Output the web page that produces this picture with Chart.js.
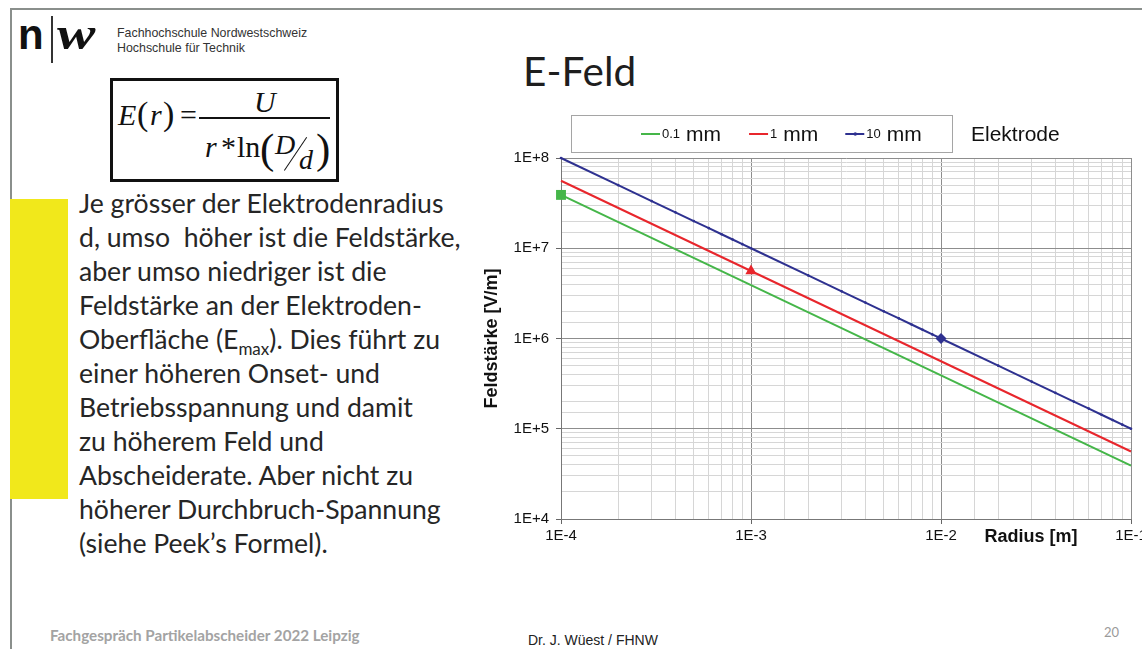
<!DOCTYPE html>
<html lang="de">
<head>
<meta charset="utf-8">
<title>E-Feld</title>
<script src="https://cdn.jsdelivr.net/npm/chart.js@4.4.1/dist/chart.umd.min.js"></script>
<style>
    html, body {
        margin: 0;
        padding: 0;
        background: #fff;
        overflow: hidden;
    }
    #slide {
        position: relative;
        width: 1142px;
        height: 649px;
        overflow: hidden;
        background: #fff;
        font-family: Lato, "Open Sans", sans-serif;
        color: #222;
    }
    #slide > * { position: absolute; }
    .frame-top { left: 10px; top: 8px; width: 1132px; height: 2px; background: #8a8f8c; }
    .frame-left { left: 10px; top: 8px; width: 2px; height: 641px; background: #8a8f8c; }

    .logo-n { left: 18px; top: 14px; font: bold 42px "Liberation Sans", Arial, sans-serif; line-height: 42px; color: #111; }
    .logo-bar { left: 51px; top: 16px; width: 1.5px; height: 47px; background: #333; }
    .logo-w { left: 57px; top: 11px; font: bold italic 46px "Liberation Serif", serif; line-height: 46px; color: #111; transform: scaleX(1.25); transform-origin: left top; }
    .inst { left: 117px; top: 26px; width: 198px; overflow: hidden; white-space: nowrap; font: 12.4px/15px "Liberation Sans", Arial, sans-serif; color: #333; }

    .formula { left: 110px; top: 78px; width: 229px; height: 104px; border: 3px solid #111; box-sizing: border-box; }
    .f { font-family: "Liberation Serif", serif; color: #111; line-height: 1; white-space: nowrap; }
    .fi { font-style: italic; }

    .yellow { left: 10px; top: 199px; width: 58px; height: 300px; background: #f1e81b; }
    .body { left: 79px; top: 186px; font-size: 26.6px; line-height: 34px; color: #262626; white-space: nowrap; }
    .body sub { font-size: 17px; line-height: 0; vertical-align: -6px; }

    .title { left: 523px; top: 51px; font-size: 40.5px; line-height: 1; color: #1e1e1e; }
    .chart-wrap { left: 470px; top: 100px; width: 690px; height: 460px; }

    .foot1 { left: 50px; top: 628px; font-weight: bold; font-size: 15.2px; line-height: 1; color: #a3a3a3; }
    .foot2 { left: 528px; top: 633px; font: 14px/1 "Liberation Sans", Arial, sans-serif; color: #222; }
    .pagenum { left: 1104px; top: 626px; font-size: 13px; line-height: 1; color: #9a9a9a; }
</style>
</head>
<body>
<div id="slide">
    <div class="frame-top"></div>
    <div class="frame-left"></div>

    <div class="logo-n">n</div>
    <div class="logo-bar"></div>
    <div class="logo-w">w</div>
    <div class="inst">Fachhochschule Nordwestschweiz<br>Hochschule für Technik</div>

    <div class="formula"></div>
    <span class="f fi" style="left:118px;top:100px;font-size:30px">E</span>
    <span class="f" style="left:137px;top:97px;font-size:34px">(</span>
    <span class="f fi" style="left:150px;top:100px;font-size:30px">r</span>
    <span class="f" style="left:163px;top:97px;font-size:34px">)</span>
    <span class="f" style="left:180px;top:100px;font-size:30px">=</span>
    <div style="left:199px;top:117px;width:131px;height:1.5px;background:#111"></div>
    <span class="f fi" style="left:254px;top:87px;font-size:30px">U</span>
    <span class="f fi" style="left:205px;top:132px;font-size:30px">r</span>
    <span class="f" style="left:221px;top:132px;font-size:30px">*</span>
    <span class="f" style="left:237px;top:132px;font-size:30px">ln</span>
    <span class="f" style="left:260px;top:127px;font-size:43px">(</span>
    <span class="f fi" style="left:275px;top:131px;font-size:28px">D</span>
    <div style="left:295px;top:134px;width:1.3px;height:40px;background:#111;transform:rotate(34deg)"></div>
    <span class="f fi" style="left:299px;top:146px;font-size:28px">d</span>
    <span class="f" style="left:316px;top:127px;font-size:43px">)</span>

    <div class="yellow"></div>
    <div class="body">Je grösser der Elektrodenradius<br>d, umso&nbsp; höher ist die Feldstärke,<br>aber umso niedriger ist die<br>Feldstärke an der Elektroden-<br>Oberfläche (E<sub>max</sub>). Dies führt zu<br>einer höheren Onset- und<br>Betriebsspannung und damit<br>zu höherem Feld und<br>Abscheiderate. Aber nicht zu<br>höherer Durchbruch-Spannung<br>(siehe Peek’s Formel).</div>

    <div class="title">E-Feld</div>
    <div class="chart-wrap"><canvas id="chart" width="690" height="460"></canvas></div>

    <div class="foot1">Fachgespräch Partikelabscheider 2022 Leipzig</div>
    <div class="foot2">Dr. J. Wüest / FHNW</div>
    <div class="pagenum">20</div>
</div>

<script>
// values (log-log, E over radius)
const radiusDecades = [1e-4, 1e-3, 1e-2, 1e-1];
const field01mm = [3.9e7, 3.9e6, 3.9e5, 3.9e4];
const field1mm = [5.6e7, 5.6e6, 5.6e5, 5.6e4];

// the 10 mm curve carries small markers at 1..9 per decade
const radiusFine = [
    1e-4, 2e-4, 3e-4, 4e-4, 5e-4, 6e-4, 7e-4, 8e-4, 9e-4,
    1e-3, 2e-3, 3e-3, 4e-3, 5e-3, 6e-3, 7e-3, 8e-3, 9e-3,
    1e-2, 2e-2, 3e-2, 4e-2, 5e-2, 6e-2, 7e-2, 8e-2, 9e-2,
    1e-1
];
const field10mm = [
    1e8, 5e7, 3.33e7, 2.5e7, 2e7, 1.67e7, 1.43e7, 1.25e7, 1.11e7,
    1e7, 5e6, 3.33e6, 2.5e6, 2e6, 1.67e6, 1.43e6, 1.25e6, 1.11e6,
    1e6, 5e5, 3.33e5, 2.5e5, 2e5, 1.67e5, 1.43e5, 1.25e5, 1.11e5,
    1e5
];

const seriesNames = ['0.1', '1', '10'];
const legendUnit = 'mm';
const legendCaption = 'Elektrode';

const xTickValues = [1e-4, 1e-3, 1e-2, 1e-1];
const xTickLabels = ['1E-4', '1E-3', '1E-2', '1E-1'];
const yTickValues = [1e4, 1e5, 1e6, 1e7, 1e8];
const yTickLabels = ['1E+4', '1E+5', '1E+6', '1E+7', '1E+8'];

const xTitle = 'Radius [m]';
const yTitle = 'Feldstärke [V/m]';

const GREEN = '#45b649';
const RED = '#e8262c';
const BLUE = '#2e3190';

function toPoints(xs, ys) {
    return xs.map((x, i) => ({ x: x, y: ys[i] }));
}

// which label belongs to a tick value, '' for the minor ticks
function labelFor(value, values, labels) {
    const idx = values.findIndex(v => Math.abs(value / v - 1) < 1e-6);
    return idx >= 0 ? labels[idx] : '';
}

function isDecade(value, values) {
    return values.some(v => Math.abs(value / v - 1) < 1e-6);
}

// one marker per series, like in the original Excel chart
function markerRadius(xs, at, size, rest) {
    return xs.map(x => (Math.abs(x / at - 1) < 1e-6 ? size : rest));
}

function markerStyle(xs, at, style, rest) {
    return xs.map(x => (Math.abs(x / at - 1) < 1e-6 ? style : rest));
}

const legendBox = {
    id: 'legendBox',
    afterDraw(chart) {
        const ctx = chart.ctx;
        ctx.save();
        // frame
        ctx.strokeStyle = '#a5a5a5';
        ctx.lineWidth = 1;
        ctx.fillStyle = '#fff';
        ctx.fillRect(101.5, 15.5, 381, 37);
        ctx.strokeRect(101.5, 15.5, 381, 37);

        const y = 34;
        let x = 171;
        const gaps = [28, 27, 0];
        chart.data.datasets.forEach((ds, i) => {
            ctx.strokeStyle = ds.borderColor;
            ctx.lineWidth = 2;
            ctx.beginPath();
            ctx.moveTo(x, y);
            ctx.lineTo(x + 19, y);
            ctx.stroke();
            if (i === 2) {
                ctx.fillStyle = ds.borderColor;
                ctx.beginPath();
                ctx.arc(x + 10, y, 1.8, 0, Math.PI * 2);
                ctx.fill();
            }
            x += 21;
            ctx.fillStyle = '#111';
            ctx.textBaseline = 'alphabetic';
            ctx.textAlign = 'left';
            ctx.font = '13px "Liberation Sans", Arial, sans-serif';
            ctx.fillText(ds.label, x, y + 4);
            x += ctx.measureText(ds.label).width + 6;
            ctx.font = '21px "Liberation Sans", Arial, sans-serif';
            ctx.fillText(legendUnit, x, y + 7);
            x += ctx.measureText(legendUnit).width + gaps[i];
        });

        ctx.font = '21px "Liberation Sans", Arial, sans-serif';
        ctx.fillText(legendCaption, 501, y + 7);

        // x title sits on the tick label row, right of 1E-2
        const area = chart.chartArea;
        ctx.font = 'bold 18px "Liberation Sans", Arial, sans-serif';
        ctx.textAlign = 'center';
        ctx.textBaseline = 'middle';
        ctx.fillText(xTitle, area.right - 100, area.bottom + 18);
        ctx.restore();
    }
};

Chart.defaults.font.family = '"Liberation Sans", Arial, sans-serif';
Chart.defaults.color = '#111';

const gridColor = (values) => (c) => (c.tick && isDecade(c.tick.value, values) ? '#8d8d8d' : '#d6d6d6');
const tickMarkColor = (values) => (c) => (c.tick && isDecade(c.tick.value, values) ? '#666' : 'rgba(0,0,0,0)');

new Chart(document.getElementById('chart'), {
    type: 'line',
    data: {
        datasets: [
            {
                label: seriesNames[0],
                data: toPoints(radiusDecades, field01mm),
                borderColor: GREEN,
                backgroundColor: GREEN,
                borderWidth: 2,
                pointRadius: markerRadius(radiusDecades, 1e-4, 7, 0),
                pointStyle: 'rect',
                pointBorderWidth: 0,
                clip: false
            },
            {
                label: seriesNames[1],
                data: toPoints(radiusDecades, field1mm),
                borderColor: RED,
                backgroundColor: RED,
                borderWidth: 2,
                pointRadius: markerRadius(radiusDecades, 1e-3, 6.5, 0),
                pointStyle: 'triangle',
                pointBorderWidth: 0,
                clip: false
            },
            {
                label: seriesNames[2],
                data: toPoints(radiusFine, field10mm),
                borderColor: BLUE,
                backgroundColor: BLUE,
                borderWidth: 2,
                pointRadius: markerRadius(radiusFine, 1e-2, 5.5, 1.3),
                pointStyle: markerStyle(radiusFine, 1e-2, 'rectRot', 'circle'),
                pointBorderWidth: 0,
                clip: false
            }
        ]
    },
    options: {
        responsive: false,
        animation: false,
        devicePixelRatio: 1,
        layout: { padding: { top: 58, right: 29, left: 0, bottom: 0 } },
        plugins: {
            legend: { display: false },
            tooltip: { enabled: false }
        },
        elements: { line: { tension: 0 } },
        scales: {
            x: {
                type: 'logarithmic',
                min: 1e-4,
                max: 1e-1,
                afterFit: (scale) => { scale.height = 41; },
                border: { color: '#777', width: 1 },
                grid: {
                    color: gridColor(xTickValues),
                    tickColor: tickMarkColor(xTickValues),
                    tickLength: 5
                },
                ticks: {
                    autoSkip: false,
                    maxRotation: 0,
                    padding: 3,
                    font: { size: 15 },
                    callback: (v) => labelFor(v, xTickValues, xTickLabels)
                }
            },
            y: {
                type: 'logarithmic',
                min: 1e4,
                max: 1e8,
                afterFit: (scale) => { scale.width = 91; },
                border: { color: '#777', width: 1 },
                grid: {
                    color: gridColor(yTickValues),
                    tickColor: tickMarkColor(yTickValues),
                    tickLength: 5
                },
                ticks: {
                    autoSkip: false,
                    padding: 7,
                    font: { size: 15 },
                    callback: (v) => labelFor(v, yTickValues, yTickLabels)
                },
                title: {
                    display: true,
                    text: yTitle,
                    font: { size: 18, weight: 'bold' },
                    padding: { top: 11, bottom: 0 }
                }
            }
        }
    },
    plugins: [legendBox]
});
</script>
</body>
</html>
